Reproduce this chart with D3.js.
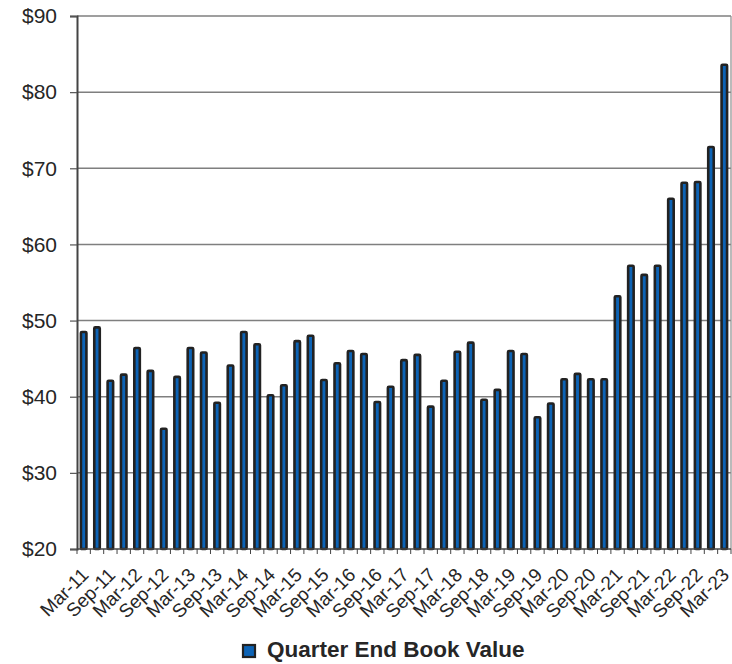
<!DOCTYPE html>
<html>
<head>
<meta charset="utf-8">
<script src="https://cdn.jsdelivr.net/npm/d3@7"></script>
<style>
  body { margin: 0; background: #fff; }
  text { font-family: "Liberation Sans", Arial, sans-serif; fill: #262626; }
</style>
</head>
<body>
<div id="chart"></div>
<script>
// quarter labels, Mar-11 .. Mar-23
var quarters = [];
var years = d3.range(11, 24);
years.forEach(function(y) {
  ["Mar", "Jun", "Sep", "Dec"].forEach(function(m) {
    if (y === 23 && m !== "Mar") return;
    quarters.push(m + "-" + y);
  });
});

// book value per quarter ($)
var bookValue = [
  48.5, 49.1, 42.1, 42.9, 46.4, 43.4, 35.8, 42.6, 46.4, 45.8,
  39.2, 44.1, 48.5, 46.9, 40.2, 41.5, 47.3, 48.0, 42.2, 44.4,
  46.0, 45.6, 39.3, 41.3, 44.8, 45.5, 38.7, 42.1, 45.9, 47.1,
  39.6, 40.9, 46.0, 45.6, 37.3, 39.1, 42.3, 43.0, 42.3, 42.3,
  53.2, 57.2, 56.0, 57.2, 66.0, 68.1, 68.2, 72.8, 83.6
];

var yTicks = [20, 30, 40, 50, 60, 70, 80, 90];
var seriesName = "Quarter End Book Value";

var svgWidth = 732;
var svgHeight = 664;
var margin = { top: 16, right: 1, bottom: 115, left: 77 };
var width = svgWidth - margin.left - margin.right;
var height = svgHeight - margin.top - margin.bottom;

var svg = d3.select("#chart")
  .append("svg")
  .attr("width", svgWidth)
  .attr("height", svgHeight);

var chartGroup = svg.append("g")
  .attr("transform", `translate(${margin.left}, ${margin.top})`);

var xScale = d3.scaleBand()
  .domain(quarters)
  .range([0, width]);

var yScale = d3.scaleLinear()
  .domain([20, 90])
  .range([height, 0]);

// gridlines
chartGroup.selectAll(".grid")
  .data(yTicks.slice(1))
  .enter()
  .append("line")
  .attr("x1", 0)
  .attr("x2", width)
  .attr("y1", d => yScale(d))
  .attr("y2", d => yScale(d))
  .attr("stroke", "#7f7f7f")
  .attr("stroke-width", 1.5);

// right border
chartGroup.append("line")
  .attr("x1", width).attr("x2", width)
  .attr("y1", 0).attr("y2", height)
  .attr("stroke", "#8c8c8c")
  .attr("stroke-width", 1.2);

// bars
var barW = 5.5;
chartGroup.selectAll(".bar")
  .data(bookValue)
  .enter()
  .append("rect")
  .attr("x", (d, i) => xScale(quarters[i]) + xScale.bandwidth() / 2 - barW / 2)
  .attr("y", d => yScale(d))
  .attr("width", barW)
  .attr("height", d => height - yScale(d))
  .attr("rx", 1)
  .attr("fill", "#0d63b5")
  .attr("stroke", "#222")
  .attr("stroke-width", 2.6);

// y axis
var leftAxis = d3.axisLeft(yScale)
  .tickValues(yTicks)
  .tickSize(7)
  .tickPadding(13)
  .tickFormat(d => "$" + d);

var yAxisG = chartGroup.append("g").call(leftAxis);
yAxisG.select(".domain").attr("stroke", "#444").attr("stroke-width", 2);
yAxisG.selectAll(".tick line").attr("stroke", "#555").attr("stroke-width", 1.2);
yAxisG.selectAll(".tick text")
  .attr("font-size", "21px")
  .attr("fill", "#262626")
  .attr("font-family", "Liberation Sans, Arial, sans-serif");

// x axis: ticks at every band boundary
chartGroup.append("line")
  .attr("x1", 0).attr("x2", width)
  .attr("y1", height).attr("y2", height)
  .attr("stroke", "#444")
  .attr("stroke-width", 1.5);

chartGroup.selectAll(".xtick")
  .data(quarters.concat(["end"]))
  .enter()
  .append("line")
  .attr("x1", (d, i) => i * xScale.step())
  .attr("x2", (d, i) => i * xScale.step())
  .attr("y1", height)
  .attr("y2", height + 5)
  .attr("stroke", "#444")
  .attr("stroke-width", 1);

// labels every second quarter
chartGroup.selectAll(".xlabel")
  .data(quarters.filter((d, i) => i % 2 === 0))
  .enter()
  .append("text")
  .attr("transform", d => `translate(${xScale(d) + xScale.bandwidth() / 2 + 6}, ${height + 27}) rotate(-45)`)
  .attr("text-anchor", "end")
  .attr("font-size", "19px")
  .text(d => d);

// legend
var legend = svg.append("g")
  .attr("transform", "translate(243, 645)");

legend.append("rect")
  .attr("width", 12)
  .attr("height", 12)
  .attr("fill", "#0d63b5")
  .attr("stroke", "#222")
  .attr("stroke-width", 2.2);

legend.append("text")
  .attr("x", 24)
  .attr("y", 12)
  .attr("font-size", "22.5px")
  .attr("font-weight", "bold")
  .text(seriesName);
</script>
</body>
</html>
